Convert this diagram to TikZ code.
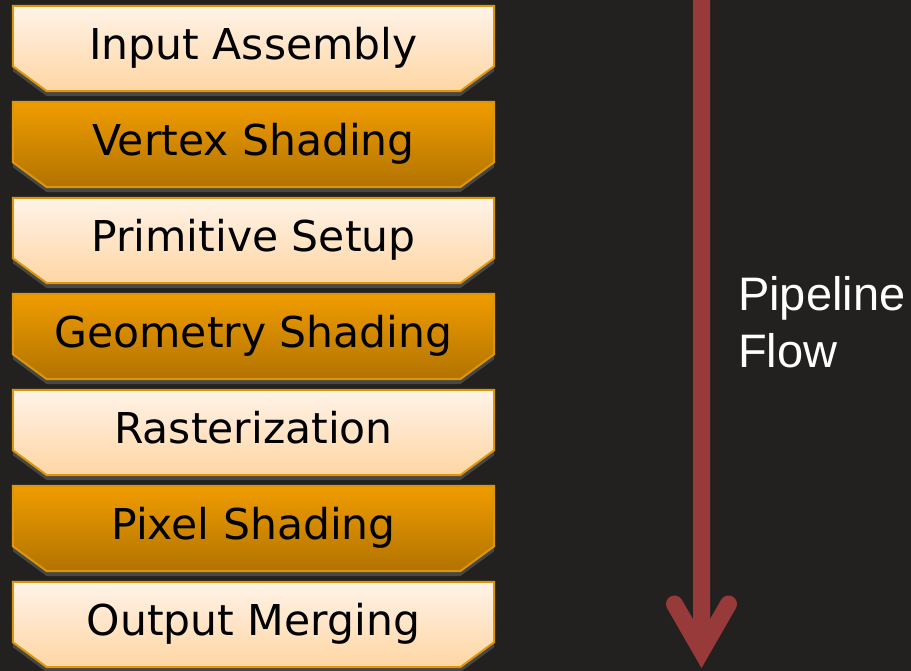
\documentclass[tikz,border=0pt]{standalone}
\usepackage{fontspec}
\setmainfont{DejaVu Sans}
\newfontfamily\flowfont{Liberation Sans}
\usetikzlibrary{shadows,calc,backgrounds}

\definecolor{bgdark}{HTML}{222120}
\definecolor{stageborder}{HTML}{DC960C}
\definecolor{lighttop}{HTML}{FFF3E8}
\definecolor{lightbot}{HTML}{FFD6A4}
\definecolor{darktop}{HTML}{F09C00}
\definecolor{darkbot}{HTML}{B27300}
\definecolor{shadowgray}{HTML}{474747}
\definecolor{flowred}{HTML}{983A3A}

\tikzset{
    stage/.style={rectangle, minimum width=481pt, minimum height=85pt, inner sep=0pt,
        text=black, text height=32pt, text depth=10pt,
        font=\fontsize{42.5}{51}\selectfont},
    stageframe/.style={draw=stageborder, line width=2pt, line join=miter,
        drop shadow={shadow xshift=0pt, shadow yshift=-5pt, fill=shadowgray, opacity=1}},
    lightframe/.style={stageframe, top color=lighttop, bottom color=lightbot},
    darkframe/.style={stageframe, top color=darktop, bottom color=darkbot},
    flowline/.style={line width=17pt, draw=flowred, line cap=round, line join=miter,
        preaction={draw=shadowgray, transform canvas={yshift=-4pt}}},
    flowtext/.style={text=white, align=left, inner sep=0pt,
        font=\flowfont\fontsize{47}{57}\selectfont}
}

\begin{document}
\begin{tikzpicture}[x=1pt, y=-1pt]
    \useasboundingbox (0,0) rectangle (911,671);
    % Pipeline stages, top to bottom
    \node[stage] (input) at (253.5,48.5) {Input Assembly};
    \node[stage] (vertex) at (253.5,144.5) {Vertex Shading};
    \node[stage] (primitive) at (253.5,240.5) {Primitive Setup};
    \node[stage] (geometry) at (253.5,336.5) {Geometry Shading};
    \node[stage] (raster) at (253.5,432.5) {Rasterization};
    \node[stage] (pixel) at (253.5,528.5) {Pixel Shading};
    \node[stage] (output) at (253.5,624.5) {Output Merging};
    % Chamfered frames behind the stage texts
    \begin{scope}[on background layer]
        \fill[bgdark] (0,0) rectangle (911,671);
        \foreach \n/\c in {input/light, vertex/dark, primitive/light, geometry/dark,
                           raster/light, pixel/dark, output/light} {
            \path[\c frame] (\n.north west) -- (\n.north east)
                -- ($(\n.south east)+(0,-25)$) -- ($(\n.south east)+(-34,0)$)
                -- ($(\n.south west)+(34,0)$) -- ($(\n.south west)+(0,-25)$) -- cycle;
        }
    \end{scope}
    % Flow arrow with open head
    \coordinate (flowtop) at (701.5,-10);
    \coordinate (flowtip) at (701.5,651);
    \draw[flowline] (flowtop) -- (flowtip)
        ($(flowtip)+(-27,-47)$) -- (flowtip) -- ($(flowtip)+(27,-47)$);
    \node[flowtext, anchor=base west] (flowlabel) at (738,367) {Pipeline\\Flow};
\end{tikzpicture}
\end{document}
